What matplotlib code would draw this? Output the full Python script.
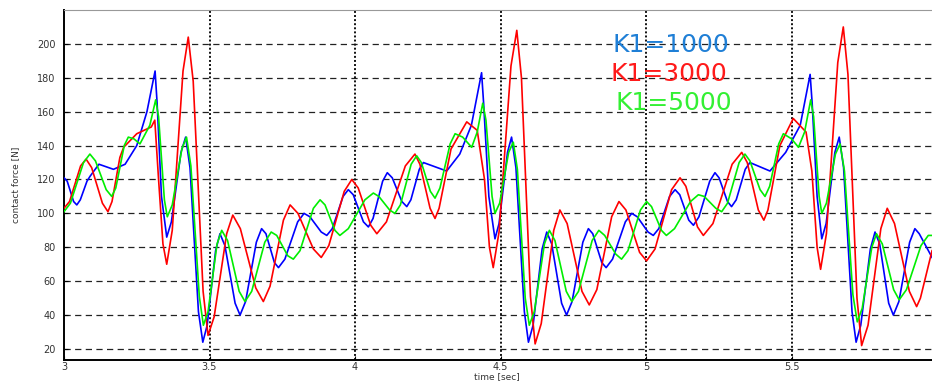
import numpy as np
import matplotlib
matplotlib.use('Agg')
import matplotlib.pyplot as plt

# contact force traces (time [s], force [N])
blue = [(3.000, 121), (3.011, 119), (3.033, 107), (3.044, 105), (3.056, 108), (3.079, 119), (3.090, 122),
        (3.120, 129), (3.170, 126), (3.210, 129), (3.250, 140), (3.285, 160), (3.313, 184), (3.320, 165),
        (3.335, 110), (3.353, 86), (3.369, 95), (3.402, 136), (3.418, 145), (3.433, 127), (3.462, 42),
        (3.477, 24), (3.492, 34), (3.521, 78), (3.536, 88), (3.553, 81), (3.588, 47), (3.605, 40),
        (3.624, 48), (3.661, 83), (3.679, 91), (3.694, 88), (3.723, 71), (3.737, 68), (3.759, 73),
        (3.803, 95), (3.825, 100), (3.845, 98), (3.884, 89), (3.903, 87), (3.922, 91), (3.959, 110),
        (3.977, 114), (3.994, 111), (4.029, 95), (4.046, 92), (4.062, 97), (4.095, 119), (4.111, 124),
        (4.128, 121), (4.161, 107), (4.178, 104), (4.192, 108), (4.221, 126), (4.235, 130), (4.315, 125),
        (4.360, 135), (4.400, 152), (4.435, 183), (4.442, 165), (4.460, 110), (4.481, 85), (4.495, 94),
        (4.524, 136), (4.538, 145), (4.553, 127), (4.582, 42), (4.596, 24), (4.612, 34), (4.643, 79),
        (4.659, 89), (4.676, 82), (4.710, 47), (4.727, 40), (4.746, 48), (4.783, 83), (4.802, 91),
        (4.817, 88), (4.848, 71), (4.863, 68), (4.885, 73), (4.929, 95), (4.951, 100), (4.970, 98),
        (5.007, 89), (5.025, 87), (5.044, 91), (5.081, 110), (5.100, 114), (5.116, 111), (5.147, 96),
        (5.163, 93), (5.182, 98), (5.219, 119), (5.237, 124), (5.251, 121), (5.280, 107), (5.294, 104),
        (5.310, 108), (5.341, 126), (5.357, 130), (5.426, 125), (5.480, 136), (5.530, 152), (5.564, 182),
        (5.571, 165), (5.588, 110), (5.604, 85), (5.619, 94), (5.649, 136), (5.664, 145), (5.679, 127),
        (5.708, 42), (5.722, 24), (5.738, 34), (5.771, 79), (5.787, 89), (5.803, 82), (5.834, 47),
        (5.850, 40), (5.869, 48), (5.906, 83), (5.924, 91), (5.939, 88), (5.983, 74)]

red = [(3.000, 103), (3.019, 107), (3.057, 128), (3.076, 132), (3.095, 127), (3.132, 106), (3.151, 101),
       (3.165, 107), (3.192, 133), (3.205, 139), (3.250, 147), (3.300, 151), (3.312, 155), (3.325, 120),
       (3.340, 82), (3.353, 70), (3.372, 90), (3.409, 184), (3.427, 204), (3.444, 178), (3.478, 54),
       (3.495, 28), (3.516, 39), (3.559, 88), (3.580, 99), (3.606, 91), (3.659, 56), (3.685, 48),
       (3.708, 57), (3.754, 96), (3.777, 105), (3.804, 100), (3.857, 79), (3.884, 74), (3.910, 81),
       (3.963, 113), (3.989, 120), (4.011, 115), (4.054, 93), (4.075, 88), (4.108, 95), (4.173, 128),
       (4.206, 135), (4.223, 129), (4.258, 103), (4.275, 97), (4.289, 103), (4.330, 138), (4.384, 154),
       (4.420, 149), (4.445, 120), (4.462, 80), (4.475, 68), (4.495, 89), (4.536, 187), (4.556, 208),
       (4.572, 180), (4.603, 51), (4.619, 23), (4.640, 35), (4.683, 90), (4.704, 102), (4.729, 94),
       (4.780, 54), (4.805, 46), (4.831, 55), (4.882, 98), (4.907, 107), (4.931, 102), (4.978, 77),
       (5.002, 72), (5.031, 79), (5.088, 114), (5.117, 121), (5.137, 116), (5.177, 92), (5.197, 87),
       (5.230, 94), (5.296, 129), (5.329, 136), (5.348, 130), (5.386, 102), (5.405, 96), (5.419, 102),
       (5.460, 140), (5.506, 156), (5.550, 148), (5.570, 125), (5.588, 80), (5.600, 67), (5.620, 88),
       (5.659, 189), (5.678, 210), (5.694, 182), (5.725, 50), (5.741, 22), (5.763, 34), (5.807, 91),
       (5.829, 103), (5.854, 94), (5.905, 54), (5.930, 45), (5.943, 50), (5.983, 78)]

green = [(3.000, 101), (3.022, 106), (3.067, 130), (3.089, 135), (3.108, 131), (3.145, 114), (3.164, 110),
         (3.178, 115), (3.207, 140), (3.221, 145), (3.240, 144), (3.261, 141), (3.295, 152), (3.315, 167),
         (3.325, 157), (3.345, 108), (3.355, 98), (3.372, 105), (3.405, 138), (3.421, 145), (3.436, 128),
         (3.465, 51), (3.479, 34), (3.495, 42), (3.526, 82), (3.542, 90), (3.562, 84), (3.602, 54),
         (3.622, 48), (3.645, 54), (3.690, 83), (3.712, 89), (3.731, 87), (3.769, 75), (3.788, 73),
         (3.811, 78), (3.857, 103), (3.880, 108), (3.897, 105), (3.931, 90), (3.948, 87), (3.977, 91),
         (4.034, 108), (4.063, 112), (4.082, 110), (4.119, 102), (4.137, 100), (4.156, 105), (4.193, 129),
         (4.212, 134), (4.228, 130), (4.259, 113), (4.275, 109), (4.292, 115), (4.327, 141), (4.344, 147),
         (4.370, 145), (4.401, 139), (4.420, 148), (4.439, 165), (4.450, 155), (4.471, 110), (4.481, 100),
         (4.497, 106), (4.528, 136), (4.544, 142), (4.558, 126), (4.585, 50), (4.599, 34), (4.616, 42),
         (4.651, 82), (4.668, 90), (4.687, 84), (4.726, 54), (4.745, 48), (4.768, 54), (4.815, 84),
         (4.838, 90), (4.858, 87), (4.896, 76), (4.916, 73), (4.938, 78), (4.981, 102), (5.002, 107),
         (5.019, 104), (5.053, 90), (5.070, 87), (5.098, 91), (5.153, 107), (5.180, 111), (5.200, 110),
         (5.240, 103), (5.260, 101), (5.280, 106), (5.320, 130), (5.340, 135), (5.357, 131), (5.392, 114),
         (5.409, 110), (5.425, 116), (5.456, 141), (5.472, 147), (5.500, 144), (5.524, 139), (5.545, 148),
         (5.566, 167), (5.576, 157), (5.595, 110), (5.604, 100), (5.620, 106), (5.651, 135), (5.667, 141),
         (5.682, 125), (5.711, 52), (5.726, 36), (5.743, 44), (5.776, 80), (5.792, 88), (5.812, 82),
         (5.851, 55), (5.870, 49), (5.895, 55), (5.945, 81), (5.970, 87), (5.983, 87)]

labels = ['K1=1000', 'K1=3000', 'K1=5000']
label_colors = ['#1f7fd6', '#ff1a1a', '#33f033']
label_pos = [(4.884, 199.5), (4.878, 182.3), (4.895, 165.2)]

x_ticks = [3, 3.5, 4, 4.5, 5, 5.5]
x_ticklabels = ['3', '3.5', '4', '4.5', '5', '5.5']
y_ticks = [20, 40, 60, 80, 100, 120, 140, 160, 180, 200]

fig = plt.figure(figsize=(9.32, 3.82), dpi=100)
ax = fig.add_axes([64 / 932, 22 / 382, 873 / 932, 350 / 382])

# horizontal dashed grid, vertical dotted grid
for y in y_ticks:
    ax.axhline(y, color='#222222', lw=0.9, ls=(0, (5, 3.5)), zorder=1)
for x in x_ticks[1:]:
    ax.axvline(x, color='#111111', lw=1.4, ls=(0, (1, 1.1)), zorder=1)

for data, col in [(blue, '#0000ff'), (red, '#ff0000'), (green, '#00ee00')]:
    arr = np.array(data)
    ax.plot(arr[:, 0], arr[:, 1], color=col, lw=1.2, zorder=3)

for lab, col, (tx, ty) in zip(labels, label_colors, label_pos):
    ax.text(tx, ty, lab, color=col, fontsize=18, ha='left', va='center', zorder=4)

ax.set_xlim(3, 6)
ax.set_ylim(13.5, 220)
ax.set_xticks(x_ticks)
ax.set_xticklabels(x_ticklabels)
ax.set_yticks(y_ticks)
ax.tick_params(direction='in', length=3, labelsize=7, labelcolor='#333333')
ax.tick_params(axis='x', pad=1.5)
ax.tick_params(axis='y', pad=6)

ax.spines['left'].set_linewidth(1.4)
ax.spines['bottom'].set_linewidth(1.4)
ax.spines['top'].set_color('#999999')
ax.spines['right'].set_visible(False)

ax.set_xlabel('time [sec]', fontsize=6.5, color='#333333')
ax.xaxis.set_label_coords(0.496, -0.036)
ax.set_ylabel('contact force [N]', fontsize=6.5, color='#333333')
ax.yaxis.set_label_coords(-0.05, 0.5)

fig.savefig('out.png', dpi=100)
